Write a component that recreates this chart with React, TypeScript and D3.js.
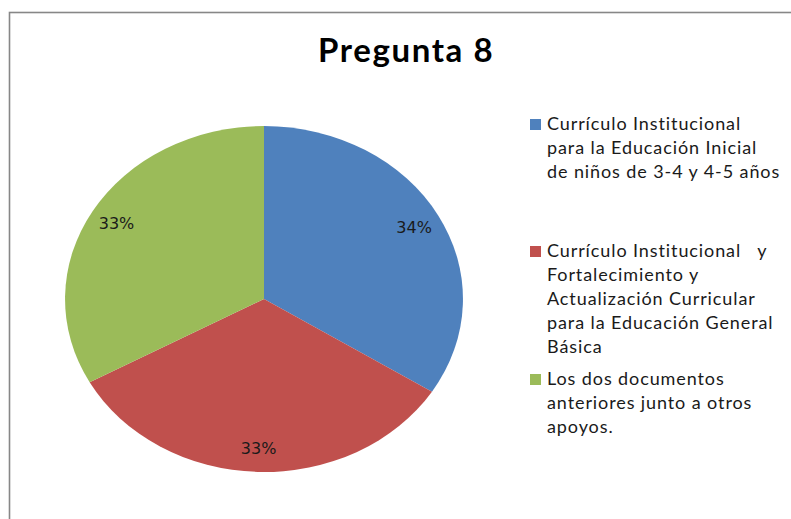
import React, { useRef, useEffect } from 'react';
import * as d3 from 'd3';

// chart data
const title = 'Pregunta 8';
const categories: string[][] = [
  ['Currículo Institucional', 'para la Educación Inicial', 'de niños de 3-4 y 4-5 años'],
  ['Currículo Institucional   y', 'Fortalecimiento y', 'Actualización Curricular', 'para la Educación General', 'Básica'],
  ['Los dos documentos', 'anteriores junto a otros', 'apoyos.'],
];
const values = [34, 33, 33];
const colors = ['#4F81BD', '#C0504D', '#9BBB59'];

const W = 791;
const H = 519;

const App = () => {
  const svgRef = useRef<SVGSVGElement>(null);

  useEffect(() => {
    const svg = d3.select(svgRef.current);
    svg.selectAll('*').remove();

    // chart frame (runs off the right/bottom edge like the screenshot)
    svg
      .append('rect')
      .attr('x', 9.5)
      .attr('y', 12.5)
      .attr('width', 900)
      .attr('height', 700)
      .attr('fill', '#fff')
      .attr('stroke', '#878787')
      .attr('stroke-width', 1.6);

    svg
      .append('text')
      .attr('x', 318)
      .attr('y', 62)
      .style('font-family', 'Lato, "Open Sans", sans-serif')
      .style('font-weight', 'bold')
      .style('font-size', '33px')
      .style('letter-spacing', '1.6px')
      .attr('fill', '#000')
      .text(title);

    const cx = 264;
    const cy = 299;
    const r = 173;
    const sx = 1.15; // the pie is drawn slightly stretched horizontally

    const pie = d3.pie<number>().sort(null).value((d) => d);
    const arcs = pie(values);
    const arc = d3.arc<d3.PieArcDatum<number>>().innerRadius(0).outerRadius(r);
    const labelArc = d3.arc<d3.PieArcDatum<number>>().innerRadius(149).outerRadius(149);

    const g = svg.append('g').attr('transform', `translate(${cx},${cy}) scale(${sx},1)`);
    g.selectAll('path')
      .data(arcs)
      .join('path')
      .attr('d', (d) => arc(d))
      .attr('fill', (_, i) => colors[i]);

    const total = d3.sum(values);
    svg
      .append('g')
      .selectAll('text')
      .data(arcs)
      .join('text')
      .attr('x', (d) => cx + labelArc.centroid(d)[0] * sx)
      .attr('y', (d) => cy + labelArc.centroid(d)[1] + 6)
      .attr('text-anchor', 'middle')
      .style('font-family', '"DejaVu Sans", Verdana, sans-serif')
      .style('font-size', '16px')
      .attr('fill', '#1a1a1a')
      .text((d) => `${Math.round((d.value / total) * 100)}%`);

    // legend
    const lx = 530;
    const lineH = 24;
    const itemTops = [130, 257, 385];
    const legend = svg.append('g');
    categories.forEach((lines, i) => {
      const item = legend.append('g');
      item
        .append('rect')
        .attr('x', lx)
        .attr('y', itemTops[i] - 11)
        .attr('width', 11)
        .attr('height', 11)
        .attr('fill', colors[i]);
      item
        .selectAll('text')
        .data(lines)
        .join('text')
        .attr('x', lx + 17)
        .attr('y', (_, j) => itemTops[i] + j * lineH)
        .style('font-family', 'Lato, "Open Sans", sans-serif')
        .style('font-size', '18px')
        .style('letter-spacing', '0.9px')
        .style('white-space', 'pre')
        .attr('xml:space', 'preserve')
        .attr('fill', '#1a1a1a')
        .text((t) => t);
    });
  }, []);

  return (
    <div style={{ position: 'absolute', left: 0, top: 0 }}>
      <svg ref={svgRef} width={W} height={H} style={{ display: 'block' }} />
    </div>
  );
};

export default App;
